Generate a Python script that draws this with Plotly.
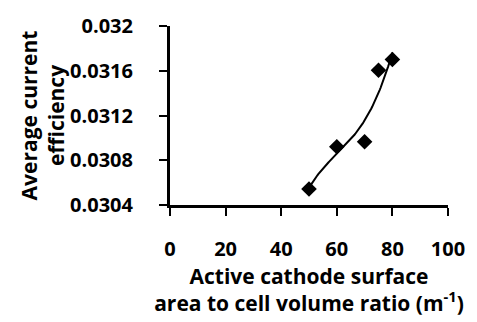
import numpy as np
import plotly.graph_objects as go

# Data
ratio = [50, 60, 70, 75, 80]
efficiency = [0.030543, 0.03092, 0.030965, 0.031605, 0.0317]

x_ticks = [0, 20, 40, 60, 80, 100]
y_ticks = [0.0304, 0.0308, 0.0312, 0.0316, 0.032]
y_tick_text = ["0.0304", "0.0308", "0.0312", "0.0316", "0.032"]

# Polynomial (order 3) trendline from the data
coef = np.polyfit(ratio, efficiency, 3)
xf = np.linspace(min(ratio), max(ratio), 100)
yf = np.polyval(coef, xf)

FONT = "Open Sans"

fig = go.Figure()
fig.add_trace(go.Scatter(x=xf, y=yf, mode="lines",
                         line=dict(color="black", width=2), hoverinfo="skip"))
fig.add_trace(go.Scatter(x=ratio, y=efficiency, mode="markers",
                         marker=dict(symbol="diamond", size=12, color="black")))

fig.update_layout(
    width=477, height=322,
    margin=dict(l=170, r=22, t=26, b=117),
    paper_bgcolor="white", plot_bgcolor="white",
    showlegend=False,
    font=dict(family=FONT, size=20, color="black"),
    xaxis=dict(range=[0, 100], tickvals=x_ticks, showgrid=False, zeroline=False,
               showline=True, linecolor="black", linewidth=3,
               ticks="outside", ticklen=8, tickwidth=2, tickcolor="black",
               tickfont=dict(family=FONT, size=20, weight="bold"),
               ticklabelstandoff=16,
               title=dict(text="<b>Active cathode surface<br>area to cell volume ratio (m<sup>-1</sup>)</b>",
                          font=dict(family=FONT, size=21), standoff=2)),
    yaxis=dict(range=[0.0304, 0.032], tickvals=y_ticks, ticktext=y_tick_text,
               showgrid=False, zeroline=False,
               showline=True, linecolor="black", linewidth=3,
               ticks="outside", ticklen=8, tickwidth=2, tickcolor="black",
               tickfont=dict(family=FONT, size=20, weight="bold"),
               ticklabelstandoff=22,
               title=dict(text="<b>Average current<br>efficiency</b>",
                          font=dict(family=FONT, size=21), standoff=0)),
)

fig.write_html("out.html")
